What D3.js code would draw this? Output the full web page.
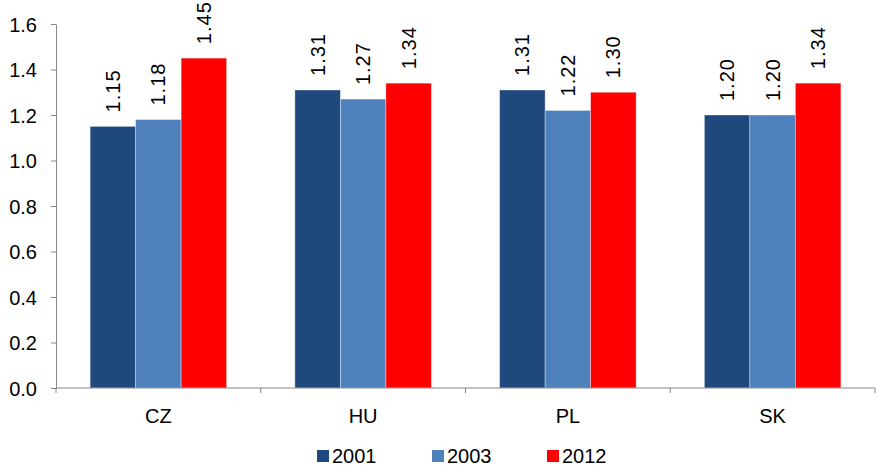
<!DOCTYPE html>
<html>
<head>
<meta charset="utf-8">
<script src="https://cdn.jsdelivr.net/npm/d3@7"></script>
<style>
  html, body { margin: 0; padding: 0; background: #fff; }
  svg text { font-family: "Liberation Sans", Arial, sans-serif; fill: #000; }
</style>
</head>
<body>
<svg id="chart" width="877" height="469"></svg>
<script>
// Countries on the category axis
const categories = ["CZ", "HU", "PL", "SK"];
// Survey years (series)
const years = ["2001", "2003", "2012"];
// Values per year, in category order
const values2001 = [1.15, 1.31, 1.31, 1.20];
const values2003 = [1.18, 1.27, 1.22, 1.20];
const values2012 = [1.45, 1.34, 1.30, 1.34];
// Value axis ticks
const yTicks = [0.0, 0.2, 0.4, 0.6, 0.8, 1.0, 1.2, 1.4, 1.6];

const seriesColors = ["#1F497D", "#4F81BD", "#FF0000"];
const seriesValues = [values2001, values2003, values2012];

const svg = d3.select("#chart");
const axisColor = "#868686";
const fontSize = "20px";

const plot = { left: 56, right: 875, top: 24, bottom: 388 };

const x = d3.scaleBand().domain(categories).range([plot.left, plot.right]).paddingInner(0).paddingOuter(0);
const y = d3.scaleLinear().domain([0, 1.6]).range([plot.bottom, plot.top]);

// Bars fill 3 of 4.5 slots in each band (gap width 150%)
const slot = x.bandwidth() / 4.5;
const inner = d3.scaleBand().domain(years).range([slot * 0.75, slot * 3.75]).padding(0);

const rows = [];
categories.forEach((c, ci) => {
  years.forEach((yr, si) => rows.push({ cat: c, year: yr, value: seriesValues[si][ci], color: seriesColors[si] }));
});

// Bars
svg.append("g").selectAll("rect").data(rows).join("rect")
  .attr("x", d => x(d.cat) + inner(d.year))
  .attr("y", d => y(d.value))
  .attr("width", inner.bandwidth())
  .attr("height", d => y(0) - y(d.value))
  .attr("fill", d => d.color)
  .attr("stroke", "rgba(255,255,255,0.45)")
  .attr("stroke-width", 0.8);

// Value labels, rotated
svg.append("g").selectAll("text").data(rows).join("text")
  .attr("transform", d => `translate(${x(d.cat) + inner(d.year) + inner.bandwidth() / 2 + 7},${y(d.value) - 14}) rotate(-90)`)
  .attr("text-anchor", "start")
  .style("font-size", fontSize)
  .style("letter-spacing", "1px")
  .text(d => d.value.toFixed(2));

// Value axis
const yAxis = svg.append("g").attr("transform", `translate(${plot.left},0)`)
  .call(d3.axisLeft(y).tickValues(yTicks).tickSize(5).tickSizeOuter(0).tickPadding(14).tickFormat(d3.format(".1f")));
yAxis.select(".domain").attr("stroke", axisColor);
yAxis.selectAll(".tick line").attr("stroke", axisColor);
yAxis.selectAll(".tick text").style("font-size", fontSize).attr("dy", "0.36em");

// Category axis: ticks sit on band boundaries
const xAxis = svg.append("g");
xAxis.append("line")
  .attr("x1", plot.left).attr("x2", plot.right)
  .attr("y1", y(0)).attr("y2", y(0))
  .attr("stroke", axisColor);
const bounds = categories.map(c => x(c)).concat([x(categories[categories.length - 1]) + x.bandwidth()]);
xAxis.selectAll("line.tk").data(bounds).join("line").attr("class", "tk")
  .attr("x1", d => d).attr("x2", d => d)
  .attr("y1", y(0)).attr("y2", y(0) + 5)
  .attr("stroke", axisColor);
xAxis.selectAll("text").data(categories).join("text")
  .attr("x", d => x(d) + x.bandwidth() / 2)
  .attr("y", 423)
  .attr("text-anchor", "middle")
  .style("font-size", fontSize)
  .text(d => d);

// Legend
const legendX = d3.scalePoint().domain(years).range([317, 547]);
const legend = svg.append("g").selectAll("g").data(years.map((yr, i) => ({ yr, color: seriesColors[i] }))).join("g")
  .attr("transform", d => `translate(${legendX(d.yr)},450)`);
legend.append("rect").attr("width", 12).attr("height", 12).attr("fill", d => d.color);
legend.append("text").attr("x", 15).attr("y", 13).style("font-size", fontSize).text(d => d.yr);
</script>
</body>
</html>
